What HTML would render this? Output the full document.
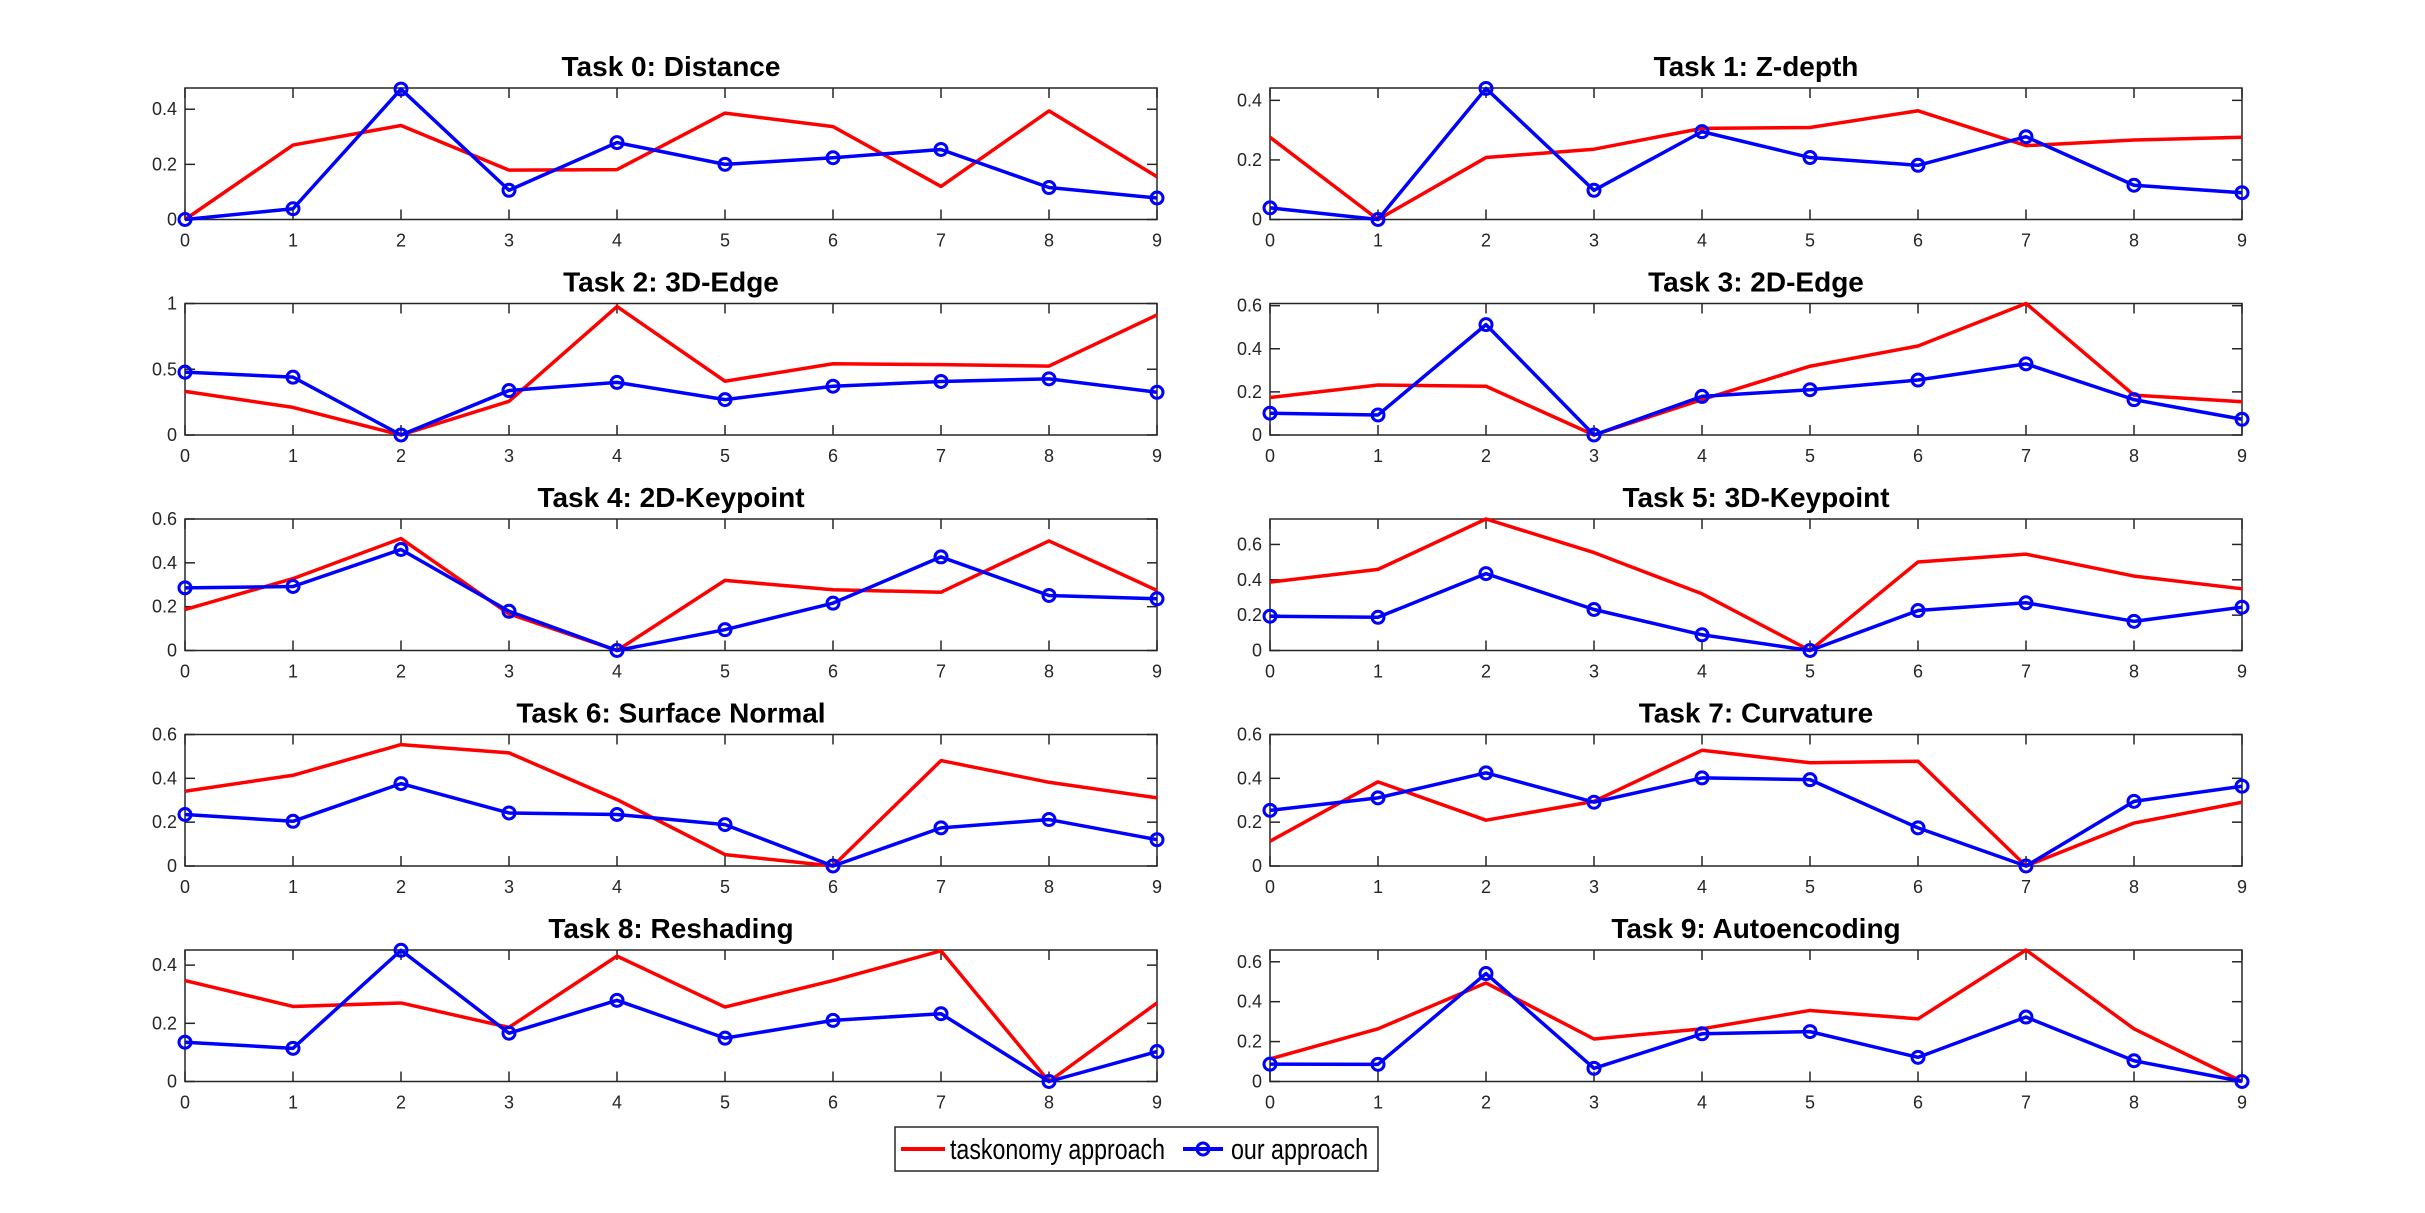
<!DOCTYPE html>
<html><head><meta charset="utf-8"><style>
html,body{margin:0;padding:0;background:#fff;}
svg{display:block;}
</style></head><body>
<svg id="fig" width="2425" height="1213" viewBox="0 0 2425 1213" xmlns="http://www.w3.org/2000/svg">
<rect x="0" y="0" width="2425" height="1213" fill="#fff"/>
<g id="plots"></g>
<g>
<rect x="895" y="1127" width="483" height="44" fill="#fff" stroke="#262626" stroke-width="1.5"/>
<line x1="901" y1="1149" x2="945" y2="1149" stroke="#f00" stroke-width="4"/>
<text x="950" y="1159" font-family="'Liberation Sans Narrow','Liberation Sans',sans-serif" font-size="29" textLength="215" lengthAdjust="spacingAndGlyphs" fill="#000">taskonomy approach</text>
<line x1="1183" y1="1149" x2="1223" y2="1149" stroke="#00f" stroke-width="4"/>
<circle cx="1203" cy="1149" r="6" fill="none" stroke="#00f" stroke-width="3"/>
<text x="1231" y="1159" font-family="'Liberation Sans Narrow','Liberation Sans',sans-serif" font-size="29" textLength="137" lengthAdjust="spacingAndGlyphs" fill="#000">our approach</text>
</g>
</svg>
<script>
const titles = ["Task 0: Distance","Task 1: Z-depth","Task 2: 3D-Edge","Task 3: 2D-Edge","Task 4: 2D-Keypoint","Task 5: 3D-Keypoint","Task 6: Surface Normal","Task 7: Curvature","Task 8: Reshading","Task 9: Autoencoding"];
const xCategories = [0,1,2,3,4,5,6,7,8,9];
const taskonomy = [
 [0,0.270,0.341,0.179,0.181,0.386,0.337,0.120,0.394,0.155],
 [0.276,0,0.208,0.236,0.306,0.309,0.365,0.248,0.267,0.276],
 [0.332,0.21,0,0.256,0.977,0.409,0.542,0.535,0.524,0.913],
 [0.174,0.232,0.226,0,0.164,0.319,0.413,0.61,0.185,0.154],
 [0.187,0.328,0.511,0.167,0,0.320,0.277,0.266,0.500,0.274],
 [0.387,0.459,0.744,0.554,0.321,0,0.501,0.545,0.421,0.349],
 [0.341,0.414,0.554,0.516,0.303,0.052,0,0.481,0.382,0.311],
 [0.113,0.384,0.209,0.295,0.528,0.471,0.478,0,0.196,0.291],
 [0.347,0.258,0.270,0.186,0.431,0.256,0.347,0.449,0,0.270],
 [0.113,0.264,0.494,0.213,0.264,0.356,0.314,0.659,0.264,0]
];
const ours = [
 [0,0.039,0.473,0.106,0.279,0.200,0.224,0.254,0.116,0.078],
 [0.039,0,0.44,0.098,0.295,0.208,0.182,0.278,0.115,0.090],
 [0.478,0.44,0,0.338,0.40,0.269,0.371,0.407,0.427,0.325],
 [0.101,0.093,0.512,0,0.179,0.210,0.255,0.330,0.164,0.073],
 [0.286,0.292,0.461,0.179,0,0.095,0.216,0.427,0.251,0.236],
 [0.194,0.188,0.435,0.232,0.089,0,0.226,0.270,0.165,0.245],
 [0.235,0.204,0.376,0.242,0.235,0.189,0,0.174,0.212,0.120],
 [0.254,0.311,0.425,0.291,0.402,0.394,0.174,0,0.295,0.364],
 [0.135,0.114,0.451,0.166,0.279,0.149,0.210,0.233,0,0.103],
 [0.087,0.086,0.541,0.066,0.239,0.250,0.121,0.323,0.104,0]
];
const yMax = [0.477,0.4415,1,0.61,0.6,0.744,0.6,0.6,0.452,0.659];
const yTicks = [[0,0.2,0.4],[0,0.2,0.4],[0,0.5,1],[0,0.2,0.4,0.6],[0,0.2,0.4,0.6],[0,0.2,0.4,0.6],[0,0.2,0.4,0.6],[0,0.2,0.4,0.6],[0,0.2,0.4],[0,0.2,0.4,0.6]];
const yTickLabels = [["0","0.2","0.4"],["0","0.2","0.4"],["0","0.5","1"],["0","0.2","0.4","0.6"],["0","0.2","0.4","0.6"],["0","0.2","0.4","0.6"],["0","0.2","0.4","0.6"],["0","0.2","0.4","0.6"],["0","0.2","0.4"],["0","0.2","0.4","0.6"]];

const NS = "http://www.w3.org/2000/svg";
const root = document.getElementById('plots');
function mk(tag, attrs, parent){ const e=document.createElementNS(NS,tag); for(const k in attrs) e.setAttribute(k,attrs[k]); parent.appendChild(e); return e; }
const colL=[185,1157], colR=[1270,2242];
const FONT="'Liberation Sans',Arial,sans-serif";
for(let i=0;i<10;i++){
  const col = i%2===0?colL:colR;
  const row = Math.floor(i/2);
  const top = 88 + row*215.5, bot = top+131.5;
  const x0=col[0], x1=col[1];
  const xs = v => x0 + (v-0)/(9-0)*(x1-x0);
  const ys = v => bot - v/yMax[i]*(bot-top);
  const g = mk('g',{},root);
  
  
  const t = mk('text',{x:(x0+x1)/2,y:top-12,'text-anchor':'middle','font-family':FONT,'font-size':28,'font-weight':'bold',fill:'#000'},g);
  t.textContent=titles[i];
  
  
  const box = mk('rect',{x:x0,y:top,width:x1-x0,height:bot-top,fill:'none',stroke:'#262626','stroke-width':1.5},g);
  
  
  xCategories.forEach(c=>{
    const x=xs(c);
    mk('line',{x1:x,y1:bot,x2:x,y2:bot-10,stroke:'#262626','stroke-width':1.5},g);
    mk('line',{x1:x,y1:top,x2:x,y2:top+10,stroke:'#262626','stroke-width':1.5},g);
    const lb=mk('text',{x:x,y:bot+27,'text-anchor':'middle','font-family':FONT,'font-size':18,fill:'#262626'},g);
    lb.textContent=String(c);
    
    
  });
  yTicks[i].forEach((v,k)=>{
    const y=ys(v);
    mk('line',{x1:x0,y1:y,x2:x0+10,y2:y,stroke:'#262626','stroke-width':1.5},g);
    mk('line',{x1:x1,y1:y,x2:x1-10,y2:y,stroke:'#262626','stroke-width':1.5},g);
    const lb=mk('text',{x:x0-8,y:y+6,'text-anchor':'end','font-family':FONT,'font-size':18,fill:'#262626'},g);
    lb.textContent=yTickLabels[i][k];
    
    
  });
  const pr = mk('polyline',{points:taskonomy[i].map((v,k)=>xs(xCategories[k])+','+ys(v)).join(' '),fill:'none',stroke:'#f00','stroke-width':3.5,'stroke-linejoin':'round'},g);
  
  
  const pb = mk('polyline',{points:ours[i].map((v,k)=>xs(xCategories[k])+','+ys(v)).join(' '),fill:'none',stroke:'#00f','stroke-width':3.5,'stroke-linejoin':'round'},g);
  
  
  ours[i].forEach((v,k)=>{
    const c=mk('circle',{cx:xs(xCategories[k]),cy:ys(v),r:6,fill:'none',stroke:'#00f','stroke-width':3},g);
    
    
  });
}
</script>
</body></html>
